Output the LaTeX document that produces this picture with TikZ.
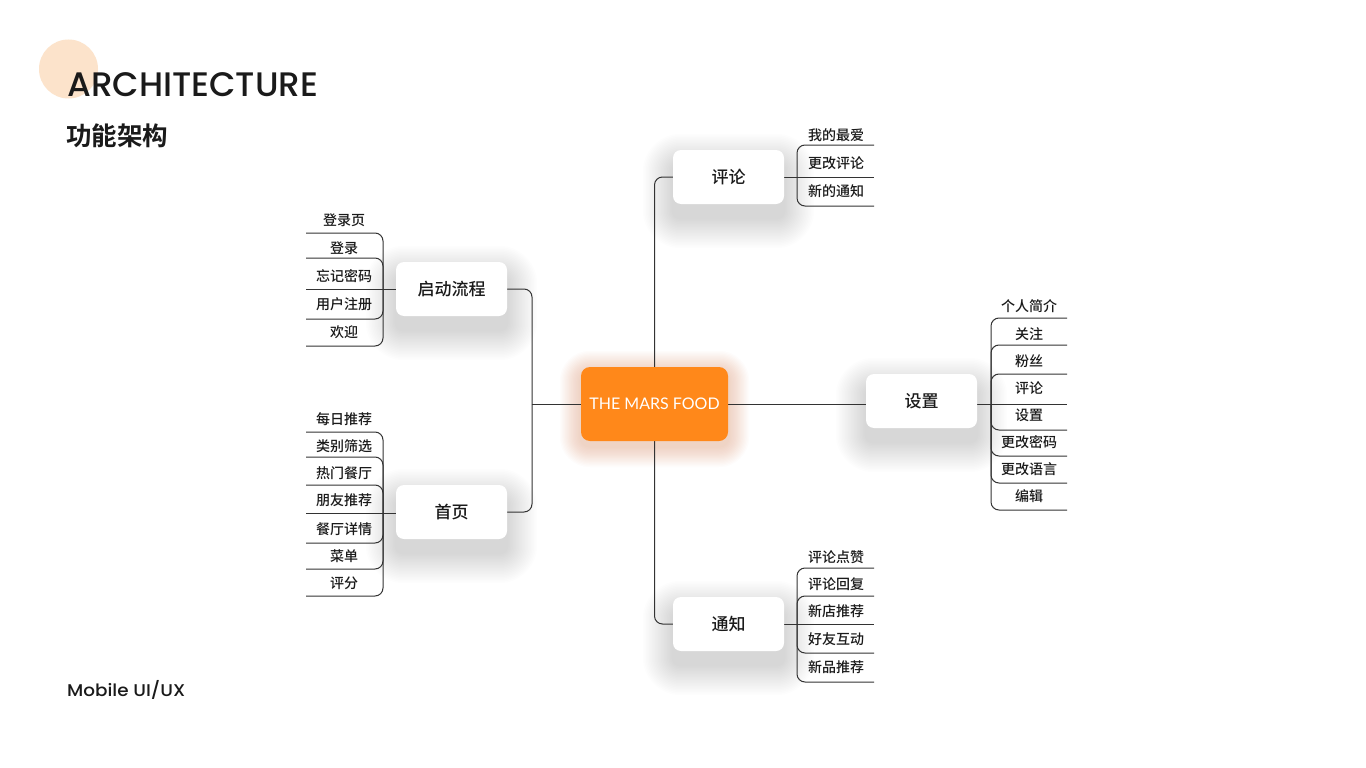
\documentclass[tikz,border=0pt]{standalone}
\usepackage{fontspec}
\usepackage{graphicx}
\setmainfont{Noto Sans CJK SC}
\newfontfamily\cjk{Noto Sans CJK SC Medium}
\newfontfamily\cjkb{Noto Sans CJK SC Bold}
\newfontfamily\pop{Poppins Medium}
\newfontfamily\lato{Lato}
\usetikzlibrary{calc}
\definecolor{ink}{HTML}{1A1A1A}
\definecolor{linec}{HTML}{333333}
\definecolor{marsorange}{HTML}{FF881A}
\definecolor{peach}{HTML}{FCE3CB}
\definecolor{glow}{HTML}{D07840}
\pgfdeclarelayer{bg}
\pgfdeclarelayer{lines}
\pgfsetlayers{bg,lines,main}
\tikzset{
  box/.style={fill=white, rounded corners=8pt, minimum width=111pt, minimum height=54pt, inner sep=0pt, font=\cjk\fontsize{17}{17}\selectfont, text=ink},
  hub/.style={fill=marsorange, rounded corners=9pt, minimum width=147pt, minimum height=74pt, inner sep=0pt, font=\lato\fontsize{16}{16}\selectfont, text=white},
  leaf/.style={inner sep=0pt, font=\cjk\fontsize{14}{14}\selectfont, text=ink},
  conn/.style={draw=linec, line width=1pt, rounded corners=8pt},
}
\newcommand\boxshadow[1]{%
  \foreach \k in {1,...,20}{%
    \pgfmathsetmacro\ee{\k*1.5}%
    \pgfmathsetmacro\rr{8+\k*1.5}%
    \fill[black, opacity=0.006, rounded corners=\rr pt]
      ([xshift=-\ee pt, yshift=-14pt-\ee pt]#1.south west) rectangle ([xshift=\ee pt, yshift=-14pt+\ee pt]#1.north east);
  }}
\begin{document}
\begin{tikzpicture}[x=1pt,y=-1pt]
\useasboundingbox (0,0) rectangle (1366,768);
\begin{pgfonlayer}{bg}
\fill[white] (0,0) rectangle (1366,768);
\fill[peach] (68.5,69) circle (29.5pt);
\end{pgfonlayer}

% title
\node[anchor=base west, inner sep=0pt, text=ink] (title) at (67,97) {\resizebox{251pt}{\height}{\pop\fontsize{34}{34}\selectfont ARCHITECTURE}};
\node[anchor=west, inner sep=0pt, text=ink] (sub) at (66,136) {\cjkb\fontsize{25.5}{25.5}\selectfont 功能架构};
\node[anchor=base west, inner sep=0pt, text=ink] (foot) at (67,696) {\resizebox{118pt}{\height}{\pop\fontsize{17}{17}\selectfont Mobile UI/UX}};

% main nodes
\node[hub] (hub) at (654.5,404) {THE MARS FOOD};
\node[box] (b1) at (451.5,289) {启动流程};
\node[box] (b2) at (451.5,512) {首页};
\node[box] (b3) at (728.5,177) {评论};
\node[box] (b4) at (921.5,401) {设置};
\node[box] (b5) at (728.5,624) {通知};

% junctions
\coordinate (jL) at (532,404);
\coordinate (jA) at (383,289);
\coordinate (jB) at (383,513);
\coordinate (jC) at (797,177);
\coordinate (jD) at (991,404);
\coordinate (jE) at (797,624);

% group A
\node[leaf] (a1) at (344,220) {登录页};
\node[leaf] (a2) at (344,248) {登录};
\node[leaf] (a3) at (344,276) {忘记密码};
\node[leaf] (a4) at (344,304) {用户注册};
\node[leaf] (a5) at (344,332) {欢迎};
\coordinate (a1e) at (306,233);
\coordinate (a2e) at (306,258);
\coordinate (a3e) at (306,289);
\coordinate (a4e) at (306,319);
\coordinate (a5e) at (306,346);

% group B
\node[leaf] (c1) at (344,419) {每日推荐};
\node[leaf] (c2) at (344,446) {类别筛选};
\node[leaf] (c3) at (344,473) {热门餐厅};
\node[leaf] (c4) at (344,500) {朋友推荐};
\node[leaf] (c5) at (344,529) {餐厅详情};
\node[leaf] (c6) at (344,556) {菜单};
\node[leaf] (c7) at (344,583) {评分};
\coordinate (c1e) at (306,432);
\coordinate (c2e) at (306,457);
\coordinate (c3e) at (306,485);
\coordinate (c4e) at (306,513);
\coordinate (c5e) at (306,543);
\coordinate (c6e) at (306,569);
\coordinate (c7e) at (306,596);

% group C
\node[leaf] (r1) at (836,135) {我的最爱};
\node[leaf] (r2) at (836,163) {更改评论};
\node[leaf] (r3) at (836,191) {新的通知};
\coordinate (r1e) at (874,145);
\coordinate (r2e) at (874,177);
\coordinate (r3e) at (874,206);

% group D
\node[leaf] (s1) at (1029,306) {个人简介};
\node[leaf] (s2) at (1029,334) {关注};
\node[leaf] (s3) at (1029,361) {粉丝};
\node[leaf] (s4) at (1029,388) {评论};
\node[leaf] (s5) at (1029,415) {设置};
\node[leaf] (s6) at (1029,442) {更改密码};
\node[leaf] (s7) at (1029,469) {更改语言};
\node[leaf] (s8) at (1029,496) {编辑};
\coordinate (s1e) at (1067,318);
\coordinate (s2e) at (1067,345);
\coordinate (s3e) at (1067,374);
\coordinate (s4e) at (1067,404);
\coordinate (s5e) at (1067,430);
\coordinate (s6e) at (1067,456);
\coordinate (s7e) at (1067,483);
\coordinate (s8e) at (1067,510);

% group E
\node[leaf] (t1) at (836,557) {评论点赞};
\node[leaf] (t2) at (836,584) {评论回复};
\node[leaf] (t3) at (836,611) {新店推荐};
\node[leaf] (t4) at (836,639) {好友互动};
\node[leaf] (t5) at (836,667) {新品推荐};
\coordinate (t1e) at (874,568);
\coordinate (t2e) at (874,596);
\coordinate (t3e) at (874,624);
\coordinate (t4e) at (874,653);
\coordinate (t5e) at (874,682);

% shadows
\begin{pgfonlayer}{bg}
  \boxshadow{b1}\boxshadow{b2}\boxshadow{b3}\boxshadow{b4}\boxshadow{b5}
  \foreach \k in {1,...,16}{%
    \pgfmathsetmacro\ee{\k*1.3}%
    \pgfmathsetmacro\rr{9+\k*1.3}%
    \fill[glow, opacity=0.018, rounded corners=\rr pt]
      ([xshift=-\ee pt, yshift=-5pt-\ee pt]hub.south west) rectangle ([xshift=\ee pt, yshift=-5pt+\ee pt]hub.north east);
  }
\end{pgfonlayer}

% connectors
\begin{pgfonlayer}{lines}
  \draw[conn] (hub.west) -- (jL);
  \draw[conn] (jL) |- (b1.east);
  \draw[conn] (jL) |- (b2.east);
  \draw[conn] (hub.north) |- (b3.west);
  \draw[conn] (hub.south) |- (b5.west);
  \draw[conn] (hub.east) -- (hub.east -| b4.west);

  \draw[conn] (b1.west) -- (a3e);
  \foreach \n in {a1e,a2e,a4e,a5e} \draw[conn] (jA) |- (\n);
  \draw[conn] (b2.west |- jB) -- (c4e);
  \foreach \n in {c1e,c2e,c3e,c5e,c6e,c7e} \draw[conn] (jB) |- (\n);
  \draw[conn] (b3.east) -- (r2e);
  \foreach \n in {r1e,r3e} \draw[conn] (jC) |- (\n);
  \draw[conn] (b4.east |- jD) -- (s4e);
  \foreach \n in {s1e,s2e,s3e,s5e,s6e,s7e,s8e} \draw[conn] (jD) |- (\n);
  \draw[conn] (b5.east) -- (t3e);
  \foreach \n in {t1e,t2e,t4e,t5e} \draw[conn] (jE) |- (\n);
\end{pgfonlayer}
\end{tikzpicture}
\end{document}
